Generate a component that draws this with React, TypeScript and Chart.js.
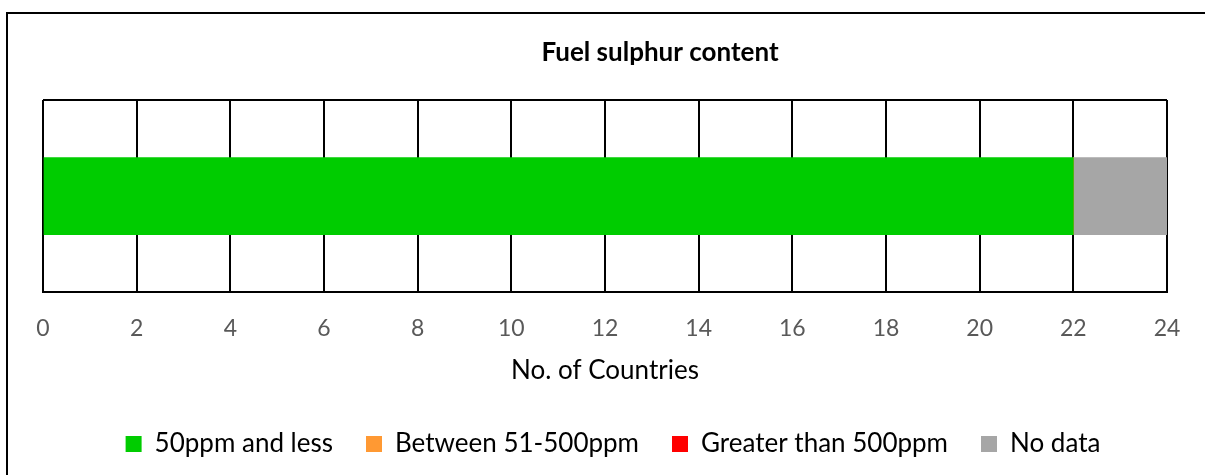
import React, { useEffect, useRef } from "react";
import { Chart, registerables } from "chart.js";

Chart.register(...registerables);

const chartTitle = "Fuel sulphur content";
const categories = ["Fuel sulphur content"];
const seriesNames = ["50ppm and less", "Between 51-500ppm", "Greater than 500ppm", "No data"];
const seriesColors = ["#00CC00", "#FF9933", "#FF0000", "#A6A6A6"];
const lessOrEqual50 = [22];
const between51And500 = [0];
const greaterThan500 = [0];
const noData = [2];
const axisTitle = "No. of Countries";
const xMin = 0;
const xMax = 24;
const xStep = 2;

const FONT = "Lato, 'Open Sans', sans-serif";

const framePlugin = {
  id: "framePlugin",
  beforeDraw(chart: any) {
    const lg = chart.legend;
    if (lg && !lg._shifted) {
      lg.left += 8;
      lg.right += 8;
      lg._shifted = true;
    }
  },
  beforeDatasetsDraw(chart: any) {
    const { ctx, chartArea } = chart;
    ctx.save();
    ctx.strokeStyle = "#000";
    ctx.lineWidth = 2;
    ctx.beginPath();
    ctx.moveTo(chartArea.left, chartArea.top);
    ctx.lineTo(chartArea.right, chartArea.top);
    ctx.stroke();
    ctx.restore();
  },
  afterDraw(chart: any) {
    const { ctx } = chart;
    ctx.save();
    ctx.fillStyle = "#000";
    ctx.font = `bold 26px ${FONT}`;
    ctx.textAlign = "center";
    ctx.textBaseline = "middle";
    ctx.fillText(chartTitle, 660, 53);
    ctx.restore();
  },
};

export default function App() {
  const ref = useRef<HTMLCanvasElement | null>(null);
  useEffect(() => {
    if (!ref.current) return;
    const series = [lessOrEqual50, between51And500, greaterThan500, noData];
    const chart = new Chart(ref.current, {
      type: "bar",
      data: {
        labels: categories,
        datasets: series.map((d, i) => ({
          label: seriesNames[i],
          data: d,
          backgroundColor: seriesColors[i],
          borderWidth: 0,
          barThickness: 77,
        })),
      },
      plugins: [framePlugin],
      options: {
        indexAxis: "y",
        animation: false,
        responsive: false,
        maintainAspectRatio: false,
        layout: { padding: { left: 43, right: 38, top: 100, bottom: 8 } },
        scales: {
          x: {
            stacked: true,
            min: xMin,
            max: xMax,
            ticks: {
              stepSize: xStep,
              color: "#595959",
              font: { family: FONT, size: 23 },
              padding: 23,
            },
            grid: { color: "#000", lineWidth: 2, drawTicks: false },
            border: { color: "#000", width: 2 },
            title: {
              display: true,
              text: axisTitle,
              color: "#000",
              font: { family: FONT, size: 26 },
              padding: { top: -11, bottom: 12 },
            },
          },
          y: {
            stacked: true,
            display: false,
          },
        },
        plugins: {
          title: { display: false },
          tooltip: { enabled: false },
          legend: {
            position: "bottom",
            labels: {
              boxWidth: 16,
              boxHeight: 16,
              padding: 33,
              color: "#000",
              font: { family: FONT, size: 26 },
            },
          },
        },
      },
    });
    return () => chart.destroy();
  }, []);
  return (
    <div style={{ position: "fixed", left: 0, top: 0, width: 1205, height: 475, overflow: "hidden", background: "#fff" }}>
      <div style={{ position: "absolute", left: 6, top: 12, width: 1250, height: 500, border: "2px solid #000", boxSizing: "border-box" }} />
      <canvas ref={ref} width={1205} height={475} style={{ position: "absolute", left: 0, top: 0 }} />
    </div>
  );
}
